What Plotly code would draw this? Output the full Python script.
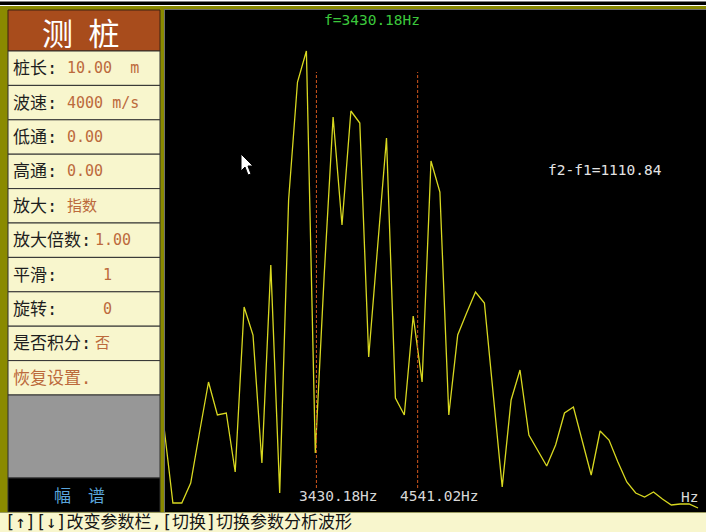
import plotly.graph_objects as go

W, H = 706, 532

# ---- data ----
bin_hz = 97.65625          # frequency resolution (Hz per sample)
first_bin = 18             # first plotted bin
amplitude = [85, 9, 9, 29, 80, 130, 97, 99, 40, 205, 177, 49, 247, 19, 312, 430, 461,
             59, 237, 395, 287, 401, 389, 155, 265, 374, 114, 97, 196, 130, 351, 320,
             97, 177, 199, 220, 209, 119, 25, 112, 142, 77, 62, 46, 67, 99, 105, 70,
             37, 81, 72, 50, 30, 19, 15, 20, 13, 7, 8, 8, 4]
frequency = [(first_bin + i) * bin_hz for i in range(len(amplitude))]
cursor_hz = [3430.18, 4541.02]
cursor_labels = ["3430.18Hz", "4541.02Hz"]

panel_labels = ["桩长:", "波速:", "低通:", "高通:", "放大:", "放大倍数:", "平滑:", "旋转:", "是否积分:", "恢复设置."]
panel_values = ["10.00  m", "4000 m/s", "0.00", "0.00", "指数", "1.00", "1", "0", "否", ""]

# ---- pixel helpers (paper coordinates) ----
def X(p):
    return p / W

def Y(p):
    return 1 - p / H

# x-axis scale: 8.9 px per bin, first sample at pixel 164
hz_per_px = bin_hz / 8.9
def hz_at(px):
    return frequency[0] + (px - 164) * hz_per_px

OLIVE = "#8a8a00"
CREAM = "#f8f6cd"
BROWN = "#a84c1c"
VAL = "#bc6a3c"
MONO = "DejaVu Sans Mono, Noto Sans CJK SC"
CJK = "Noto Sans CJK SC"

fig = go.Figure()
fig.add_trace(go.Scatter(x=frequency, y=amplitude, mode="lines",
                         line=dict(color="#d8d820", width=1.3), hoverinfo="skip"))

shapes = []
def rect(x0, y0, x1, y1, fill, line_color=None, lw=0, layer="below"):
    shapes.append(dict(type="rect", xref="paper", yref="paper",
                       x0=X(x0), x1=X(x1), y0=Y(y1), y1=Y(y0),
                       fillcolor=fill, layer=layer,
                       line=dict(color=line_color or fill, width=lw)))

def hline(x0, x1, y, color, w=1, layer="above"):
    shapes.append(dict(type="line", xref="paper", yref="paper",
                       x0=X(x0), x1=X(x1), y0=Y(y), y1=Y(y), layer=layer,
                       line=dict(color=color, width=w)))

def vline(x, y0, y1, color, w=1, layer="above"):
    shapes.append(dict(type="line", xref="paper", yref="paper",
                       x0=X(x), x1=X(x), y0=Y(y0), y1=Y(y1), layer=layer,
                       line=dict(color=color, width=w)))

# frame
rect(0, 1.5, W, 5, "#000000")
rect(0, 6, W, 10, OLIVE)
hline(164, W, 9.5, "#707070", 1)
rect(0, 6, 8, 512, OLIVE)
rect(160, 6, 164.5, 512, OLIVE)
vline(164.5, 10, 512, "#707070", 1)

# panel
rect(8, 10, 160, 51, BROWN, "#3a2010", 1)
row_top = 51
row_h = 34.4
for k in range(len(panel_labels)):
    y0 = row_top + k * row_h
    rect(8, y0, 160, y0 + row_h, CREAM, "#303030", 1)
rect(8, 395, 160, 478, "#979797", "#303030", 1)
rect(8, 478, 160, 512, "#000000", "#303030", 1)

# status bar
rect(0, 512, W, H, CREAM)
hline(0, W, 512.5, "#9a9a60", 1)

# cursors
for hz in cursor_hz:
    shapes.append(dict(type="line", xref="x", yref="paper", x0=hz, x1=hz,
                       y0=Y(488), y1=Y(72), layer="above",
                       line=dict(color="#d0561e", width=1, dash="3px,2px")))

# mouse pointer
pts = [(241, 154), (241, 171), (245, 167), (248, 175), (251, 174), (248, 166), (253, 166)]
path = "M " + " L ".join(f"{X(a):.5f},{Y(b):.5f}" for a, b in pts) + " Z"
shapes.append(dict(type="path", xref="paper", yref="paper", path=path,
                   fillcolor="#ffffff", line=dict(color="#000000", width=1), layer="above"))

ann = []
def text(x, y, s, color, size, family=MONO, anchor="left"):
    ann.append(dict(xref="paper", yref="paper", x=X(x), y=Y(y), text=s, showarrow=False,
                    xanchor=anchor, yanchor="middle", font=dict(color=color, size=size, family=family),
                    borderpad=0))

text(81, 31, "测\u2002桩", "#ffffff", 31, CJK, "center")
value_x = [66, 66, 66, 66, 66, 94, 102, 102, 94, 0]
for k, (lab, val) in enumerate(zip(panel_labels, panel_values)):
    yc = row_top + k * row_h + row_h / 2
    col = VAL if lab.startswith("恢复") else "#1e1e1e"
    text(12, yc, lab, col, 17)
    if val:
        text(value_x[k], yc, val, VAL, 15)

text(79, 494, "幅　谱", "#5aa5dc", 17, CJK, "center")
text(4, 521.5, "[↑][↓]改变参数栏,[切换]切换参数分析波形", "#141414", 17)

text(372, 20, "f=" + cursor_labels[0], "#3cc83c", 14.5, "DejaVu Sans Mono", "center")
text(605, 170, "f2-f1=%.2f" % (cursor_hz[1] - cursor_hz[0]), "#e4e4e4", 14.5, "DejaVu Sans Mono", "center")
text(338, 496, cursor_labels[0], "#d8d8d8", 14.5, "DejaVu Sans Mono", "center")
text(439, 496, cursor_labels[1], "#d8d8d8", 14.5, "DejaVu Sans Mono", "center")
text(689, 497, "Hz", "#d8d8d8", 14.5, "DejaVu Sans Mono", "center")

fig.update_layout(
    width=W, height=H, autosize=False,
    margin=dict(l=0, r=0, t=0, b=0, pad=0),
    paper_bgcolor="#ffffff", plot_bgcolor="#000000",
    showlegend=False, shapes=shapes, annotations=ann,
    xaxis=dict(domain=[X(164.5), 1], range=[hz_at(164.5), hz_at(W)],
               visible=False, showgrid=False, zeroline=False, fixedrange=True),
    yaxis=dict(domain=[Y(512), Y(10)], range=[0, 502],
               visible=False, showgrid=False, zeroline=False, fixedrange=True),
)

fig.write_html("out.html", config={"displayModeBar": False},
               post_script="document.body.style.margin='0';document.body.style.overflow='hidden';")
